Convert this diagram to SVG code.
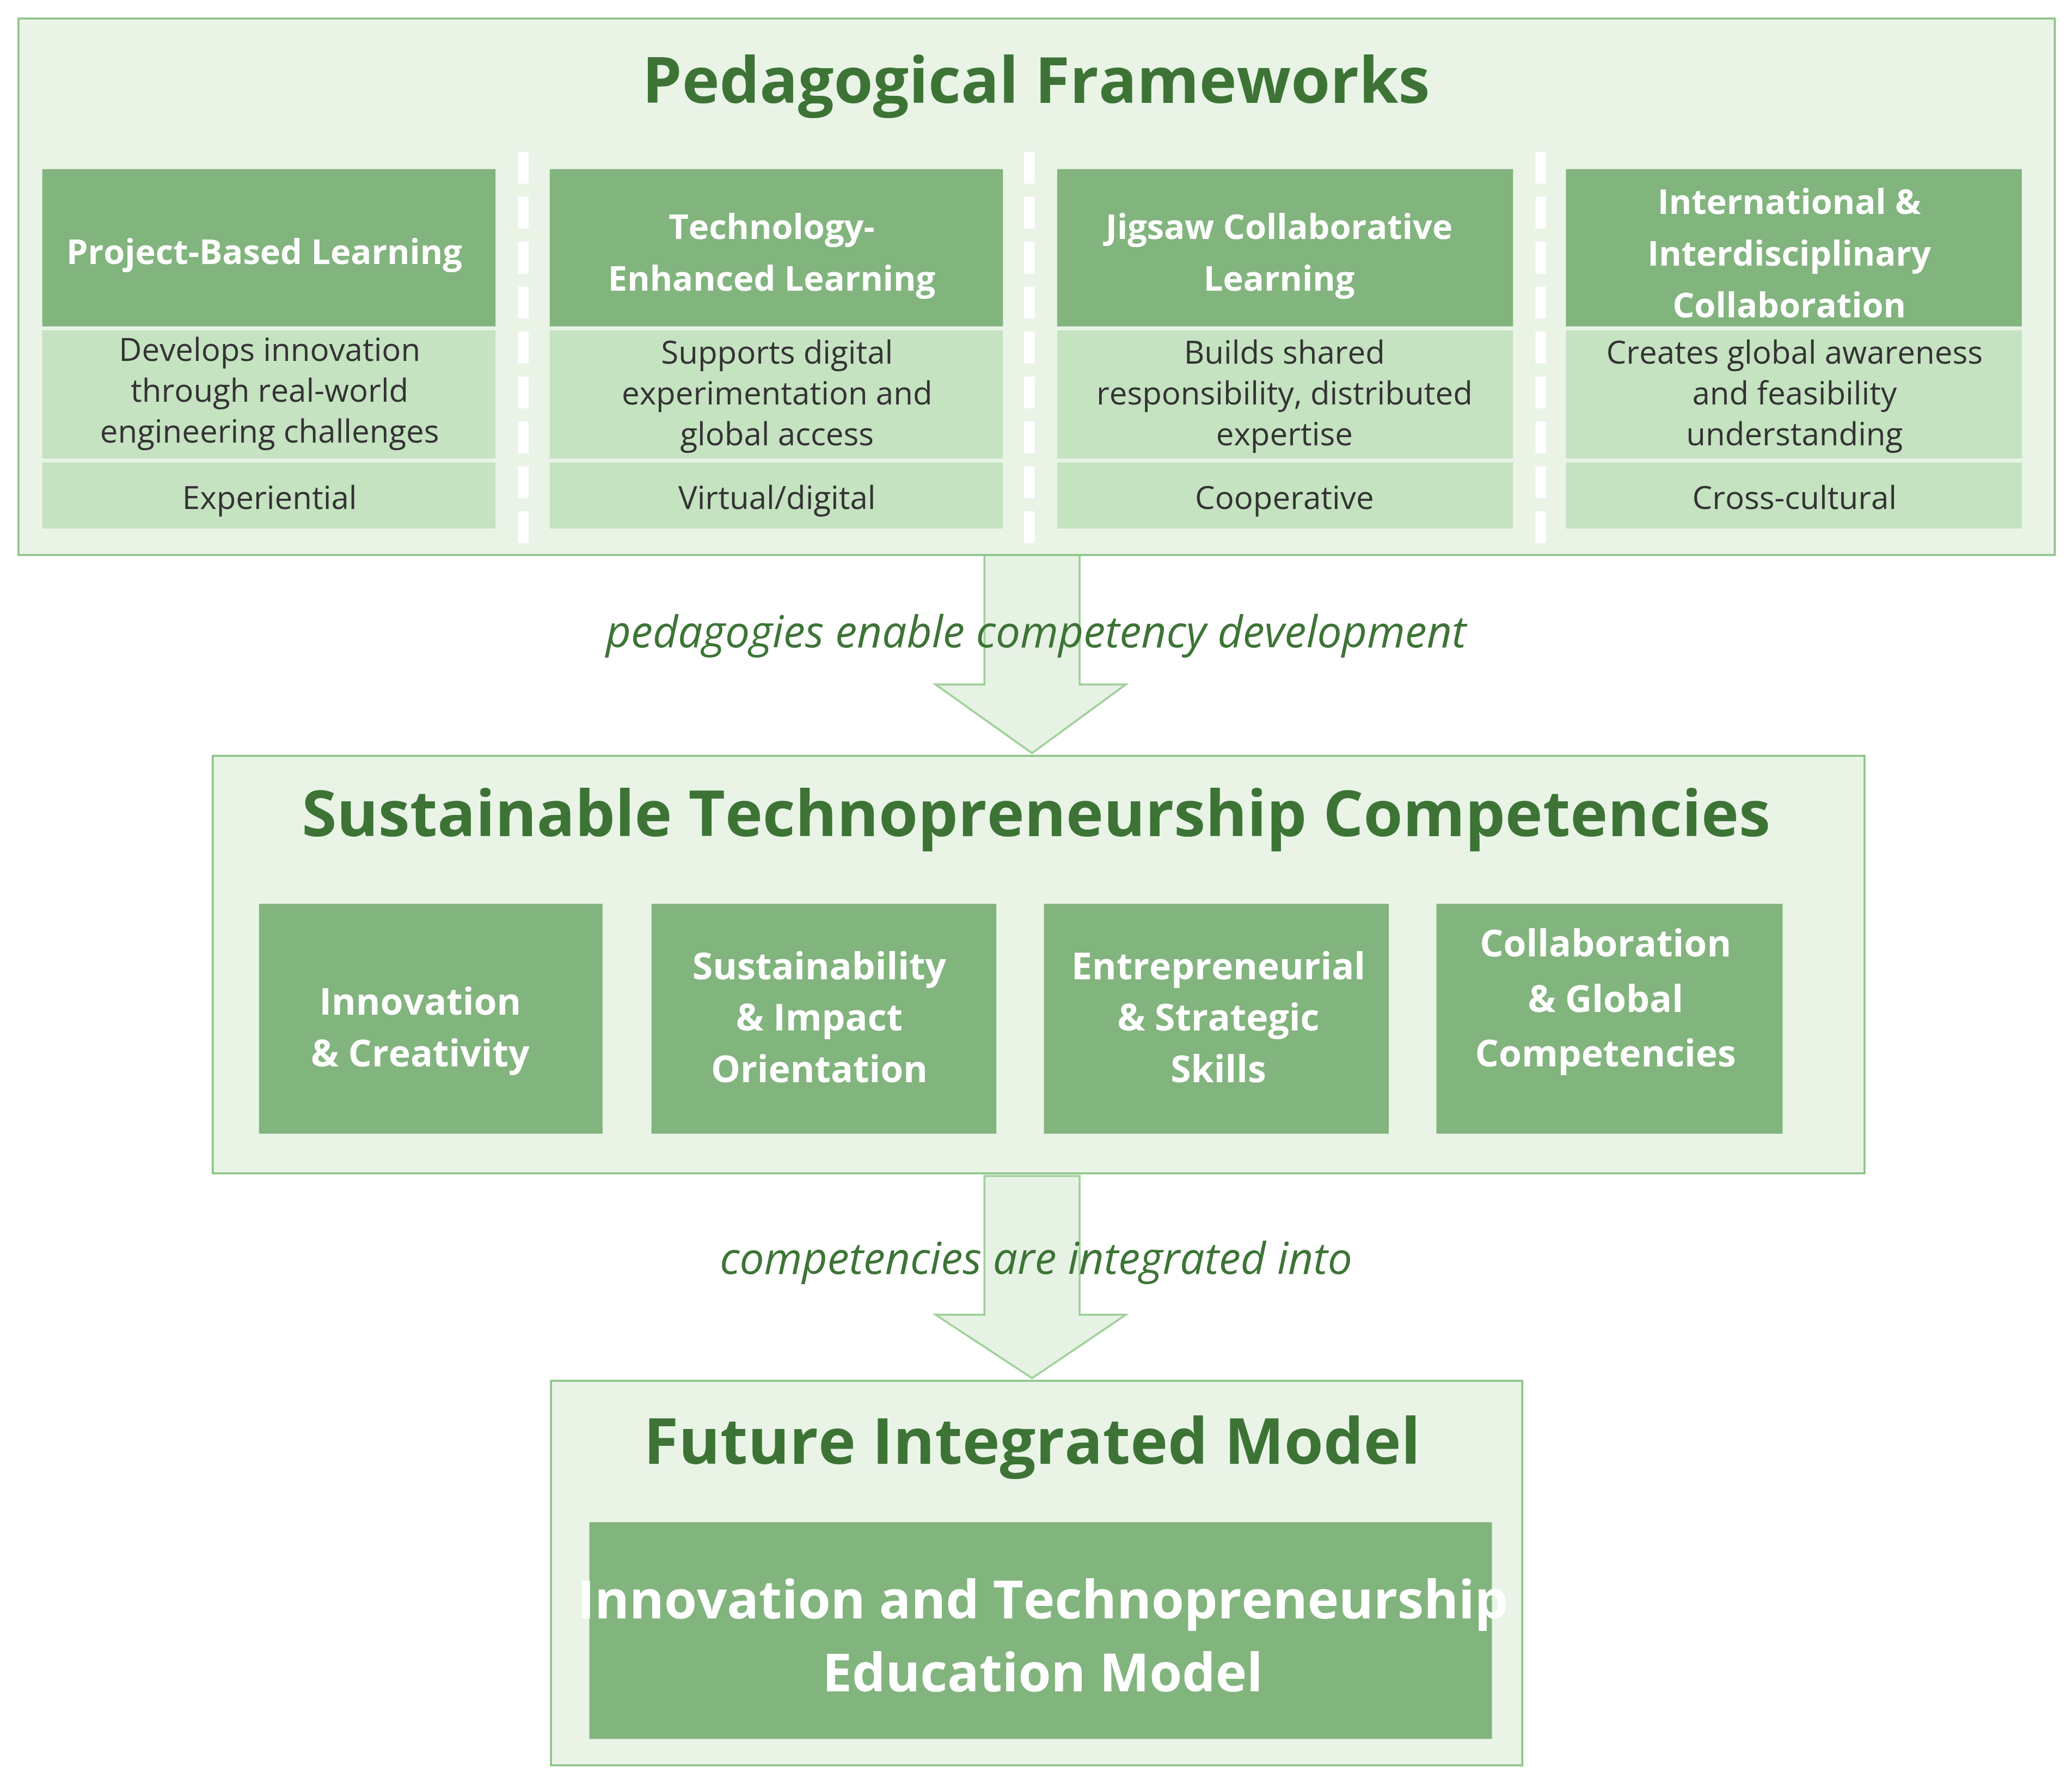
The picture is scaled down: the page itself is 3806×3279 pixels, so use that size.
<svg xmlns="http://www.w3.org/2000/svg" width="3806" height="3279" viewBox="0 0 3806 3279">
<style>
.outer{fill:#e9f4e7;stroke:#8cc487;stroke-width:1.5}
.hdr{fill:#82b47e}
.desc{fill:#c5e2c1}
.arrow{fill:#e6f2e4;stroke:#9fd099;stroke-width:1.5}
text{font-family:"Open Sans","Noto Sans","Liberation Sans",sans-serif;text-anchor:middle}
.title{font-size:48px;font-weight:bold;fill:#3d7436}
.ht{font-size:26px;font-weight:bold;fill:#ffffff}
.dt{font-size:24px;fill:#333333}
.ct{font-size:28px;font-weight:bold;fill:#ffffff}
.bt{font-size:40px;font-weight:bold;fill:#ffffff}
.lbl{font-size:33px;font-style:italic;fill:#3d7436}
.sep{stroke:#ffffff;stroke-width:8;stroke-dasharray:24 10}
</style>
<rect width="3806" height="3279" fill="#ffffff"/>
<g transform="scale(2.4273)">
<g id="connectors">
<path class="arrow" d="M745,420 H817 V518 H852 L781,570 L708,518 H745 Z"/>
<text class="lbl" x="784" y="490">pedagogies enable competency development</text>
<path class="arrow" d="M745,890 H817 V995 H852 L781,1043 L708,995 H745 Z"/>
<text class="lbl" x="784" y="964">competencies are integrated into</text>
</g>
<g id="pedagogical-frameworks">
<rect class="outer" x="14" y="14" width="1541" height="406"/>
<text class="title" x="784" y="78">Pedagogical Frameworks</text>
<line class="sep" x1="396" y1="115" x2="396" y2="420"/>
<line class="sep" x1="779" y1="115" x2="779" y2="420"/>
<line class="sep" x1="1166" y1="115" x2="1166" y2="420"/>
</g>
<g id="pbl">
<rect class="hdr" x="32" y="128" width="343" height="119"/>
<rect class="desc" x="32" y="250" width="343" height="97"/>
<rect class="desc" x="32" y="350" width="343" height="50"/>
<text class="ht" x="200" y="200">Project-Based Learning</text>
<text class="dt" x="204" y="273">Develops innovation</text>
<text class="dt" x="204" y="304">through real-world</text>
<text class="dt" x="204" y="335">engineering challenges</text>
<text class="dt" x="204" y="385">Experiential</text>
</g>
<g id="tel">
<rect class="hdr" x="416" y="128" width="343" height="119"/>
<rect class="desc" x="416" y="250" width="343" height="97"/>
<rect class="desc" x="416" y="350" width="343" height="50"/>
<text class="ht" x="584" y="181">Technology-</text>
<text class="ht" x="584" y="220">Enhanced Learning</text>
<text class="dt" x="588" y="275">Supports digital</text>
<text class="dt" x="588" y="306">experimentation and</text>
<text class="dt" x="588" y="337">global access</text>
<text class="dt" x="588" y="385">Virtual/digital</text>
</g>
<g id="jigsaw">
<rect class="hdr" x="800" y="128" width="345" height="119"/>
<rect class="desc" x="800" y="250" width="345" height="97"/>
<rect class="desc" x="800" y="350" width="345" height="50"/>
<text class="ht" x="968" y="181">Jigsaw Collaborative</text>
<text class="ht" x="968" y="220">Learning</text>
<text class="dt" x="972" y="275">Builds shared</text>
<text class="dt" x="972" y="306">responsibility, distributed</text>
<text class="dt" x="972" y="337">expertise</text>
<text class="dt" x="972" y="385">Cooperative</text>
</g>
<g id="intl">
<rect class="hdr" x="1185" y="128" width="345" height="119"/>
<rect class="desc" x="1185" y="250" width="345" height="97"/>
<rect class="desc" x="1185" y="350" width="345" height="50"/>
<text class="ht" x="1354" y="162">International &amp;</text>
<text class="ht" x="1354" y="201">Interdisciplinary</text>
<text class="ht" x="1354" y="240">Collaboration</text>
<text class="dt" x="1358" y="275">Creates global awareness</text>
<text class="dt" x="1358" y="306">and feasibility</text>
<text class="dt" x="1358" y="337">understanding</text>
<text class="dt" x="1358" y="385">Cross-cultural</text>
</g>
<g id="competencies">
<rect class="outer" x="161" y="572" width="1250" height="316"/>
<text class="title" x="784" y="633">Sustainable Technopreneurship  Competencies</text>
</g>
<g id="innovation">
<rect class="hdr" x="196" y="684" width="260" height="174"/>
<text class="ct" x="318" y="768">Innovation</text>
<text class="ct" x="318" y="807">&amp; Creativity</text>
</g>
<g id="sustainability">
<rect class="hdr" x="493" y="684" width="261" height="174"/>
<text class="ct" x="620" y="741">Sustainability</text>
<text class="ct" x="620" y="780">&amp; Impact</text>
<text class="ct" x="620" y="819">Orientation</text>
</g>
<g id="entrepreneurial">
<rect class="hdr" x="790" y="684" width="261" height="174"/>
<text class="ct" x="922" y="741">Entrepreneurial</text>
<text class="ct" x="922" y="780">&amp; Strategic</text>
<text class="ct" x="922" y="819">Skills</text>
</g>
<g id="collaboration">
<rect class="hdr" x="1087" y="684" width="262" height="174"/>
<text class="ct" x="1215" y="724">Collaboration</text>
<text class="ct" x="1215" y="766">&amp; Global</text>
<text class="ct" x="1215" y="807">Competencies</text>
</g>
<g id="future-model">
<rect class="outer" x="417" y="1045" width="735" height="291"/>
<text class="title" x="781" y="1108">Future Integrated Model</text>
<rect class="hdr" x="446" y="1152" width="683" height="164"/>
<text class="bt" x="789" y="1225">Innovation and Technopreneurship</text>
<text class="bt" x="789" y="1280">Education Model</text>
</g>
</g>
</svg>
